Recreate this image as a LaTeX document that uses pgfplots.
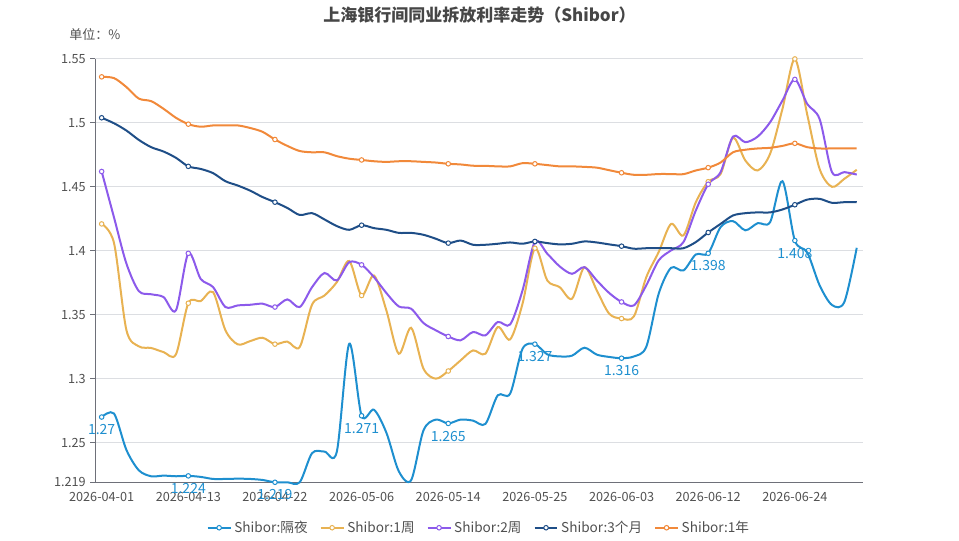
\documentclass[border=0pt]{standalone}
\usepackage{fontspec}
\setmainfont{Noto Sans CJK SC}
\usepackage{pgfplots}
\usepackage{pgfplotstable}
\pgfplotsset{compat=1.18}
\definecolor{con}{RGB}{30,143,207}
\definecolor{wone}{RGB}{232,178,82}
\definecolor{wtwo}{RGB}{140,90,235}
\definecolor{mthree}{RGB}{31,78,135}
\definecolor{yone}{RGB}{241,137,58}
\definecolor{axisgray}{RGB}{110,112,121}
\definecolor{gridgray}{RGB}{220,222,226}
\definecolor{labelgray}{RGB}{80,80,80}
\definecolor{titlegray}{RGB}{70,70,70}
\pgfplotstableread{
i on w1 w2 m3 y1
0 1.270 1.421 1.462 1.504 1.536
1 1.2727 1.406 1.426 1.4997 1.535
2 1.2443 1.338 1.390 1.494 1.528
3 1.2284 1.3253 1.3685 1.4867 1.519
4 1.2237 1.324 1.366 1.481 1.517
5 1.2242 1.3208 1.3638 1.4776 1.511
6 1.2237 1.319 1.3534 1.4727 1.504
7 1.224 1.359 1.398 1.466 1.499
8 1.2232 1.3607 1.378 1.464 1.497
9 1.2216 1.3677 1.3716 1.4607 1.498
10 1.2216 1.3378 1.356 1.4544 1.498
11 1.2218 1.3268 1.3573 1.451 1.498
12 1.2216 1.3294 1.3578 1.447 1.496
13 1.2208 1.332 1.3586 1.442 1.493
14 1.219 1.327 1.356 1.438 1.487
15 1.219 1.329 1.362 1.4335 1.482
16 1.219 1.3247 1.356 1.428 1.478
17 1.2418 1.358 1.3716 1.4294 1.477
18 1.243 1.365 1.3826 1.4245 1.477
19 1.243 1.3755 1.3768 1.4193 1.474
20 1.3273 1.392 1.3911 1.4164 1.472
21 1.271 1.365 1.389 1.420 1.471
22 1.2757 1.3807 1.3794 1.4177 1.470
23 1.2578 1.3534 1.367 1.4164 1.4695
24 1.2277 1.3195 1.3565 1.414 1.470
25 1.2206 1.3398 1.3547 1.414 1.470
26 1.2596 1.3078 1.3435 1.4125 1.4695
27 1.268 1.300 1.3378 1.4094 1.469
28 1.265 1.306 1.333 1.406 1.468
29 1.268 1.3143 1.330 1.408 1.4675
30 1.2672 1.3221 1.3365 1.4047 1.4665
31 1.2646 1.3195 1.3339 1.4047 1.4664
32 1.287 1.3404 1.3443 1.4055 1.466
33 1.2883 1.3307 1.3424 1.4065 1.466
34 1.3234 1.3586 1.369 1.4055 1.4685
35 1.327 1.402 1.407 1.4073 1.468
36 1.319 1.3768 1.3977 1.406 1.467
37 1.3174 1.3716 1.3878 1.405 1.466
38 1.318 1.3625 1.382 1.4055 1.466
39 1.3242 1.3872 1.3872 1.4073 1.4656
40 1.3188 1.369 1.3768 1.4065 1.465
41 1.317 1.3508 1.367 1.405 1.463
42 1.316 1.347 1.360 1.4036 1.461
43 1.3174 1.3487 1.3573 1.4016 1.4594
44 1.325 1.3794 1.373 1.402 1.4594
45 1.3664 1.399 1.3925 1.402 1.460
46 1.3867 1.421 1.4003 1.402 1.460
47 1.3846 1.412 1.4068 1.402 1.4599
48 1.3971 1.438 1.4315 1.4068 1.4628
49 1.398 1.454 1.452 1.4143 1.465
50 1.4185 1.460 1.4615 1.421 1.469
51 1.4232 1.4883 1.4893 1.4276 1.477
52 1.416 1.4706 1.4849 1.4294 1.479
53 1.4216 1.4628 1.4893 1.430 1.480
54 1.4224 1.4758 1.5005 1.430 1.4805
55 1.4544 1.511 1.5175 1.4323 1.482
56 1.408 1.550 1.534 1.436 1.484
57 1.3987 1.5065 1.5148 1.440 1.481
58 1.373 1.464 1.503 1.4406 1.480
59 1.3576 1.450 1.4615 1.4375 1.480
60 1.360 1.4563 1.4615 1.438 1.480
61 1.4023 1.4633 1.4596 1.438 1.480
}\datatable
\begin{document}
\begin{tikzpicture}
\path[use as bounding box] (0pt,0pt) rectangle (719.25pt,405pt);
\node[font=\fontsize{12.75}{15}\selectfont\bfseries, text=titlegray] at (359.6pt,393.5pt) {上海银行间同业拆放利率走势（Shibor）};
\node[font=\fontsize{9.75}{12}\selectfont, text=labelgray, anchor=west, inner sep=0pt] at (51.75pt,378.75pt) {单位：\%};
\begin{axis}[
  at={(71.6pt,43.3pt)}, anchor=south west,
  scale only axis, width=575.6pt, height=317.5pt,
  xmin=-0.5, xmax=61.5, ymin=1.219, ymax=1.55,
  clip=false,
  axis x line*=bottom, axis y line*=left,
  axis line style={draw=axisgray, line width=0.75pt, -},
  ytick={1.219,1.25,1.3,1.35,1.4,1.45,1.5,1.55},
  yticklabels={1.219,1.25,1.3,1.35,1.4,1.45,1.5,1.55},
  ymajorgrids, grid style={draw=gridgray, line width=0.75pt},
  xtick={0,7,14,21,28,35,42,49,56},
  xticklabels={2026-04-01,2026-04-13,2026-04-22,2026-05-06,2026-05-14,2026-05-25,2026-06-03,2026-06-12,2026-06-24},
  x tick style={draw=none},
  y tick style={draw=axisgray, line width=0.75pt},
  extra x ticks={-0.5,6.5,13.5,20.5,27.5,34.5,41.5,48.5,55.5,61.5},
  extra x tick labels={},
  extra x tick style={tick style={draw=axisgray, line width=0.75pt}, grid=none},
  tick align=outside, major tick length=3.75pt,
  ticklabel style={font=\fontsize{9.5}{11}\selectfont, text=labelgray},
  /pgf/number format/assume math mode=true,
  legend style={at={(0.5,-0.1074)}, anchor=center, draw=none, fill=none,
    legend columns=5, font=\fontsize{10.2}{12}\selectfont, text=labelgray,
    /tikz/every even column/.append style={column sep=7pt}},
  legend image code/.code={\draw[#1, mark repeat=2, mark phase=2] plot coordinates {(0pt,0pt) (8.6pt,0pt) (17.2pt,0pt)};},
  every axis plot/.append style={line width=1.5pt, smooth, tension=0.5,
    mark=*, mark repeat=7, mark phase=1, mark size=1.7pt,
    mark options={fill=white, line width=0.75pt}},
]
\addplot[con] table[x=i,y=on]{\datatable};
\addlegendentry{Shibor:隔夜}
\addplot[wone] table[x=i,y=w1]{\datatable};
\addlegendentry{Shibor:1周}
\addplot[wtwo] table[x=i,y=w2]{\datatable};
\addlegendentry{Shibor:2周}
\addplot[mthree] table[x=i,y=m3]{\datatable};
\addlegendentry{Shibor:3个月}
\addplot[yone] table[x=i,y=y1]{\datatable};
\addlegendentry{Shibor:1年}
\addplot[draw=none, mark=none, forget plot, mark repeat=7, mark phase=1,
  point meta=y, nodes near coords,
  nodes near coords style={font=\fontsize{10.5}{12}\selectfont, text=con, anchor=center, yshift=-9.5pt,
    /pgf/number format/.cd, fixed, precision=3, assume math mode=true}]
  table[x=i,y=on]{\datatable};
\end{axis}
\end{tikzpicture}
\end{document}
